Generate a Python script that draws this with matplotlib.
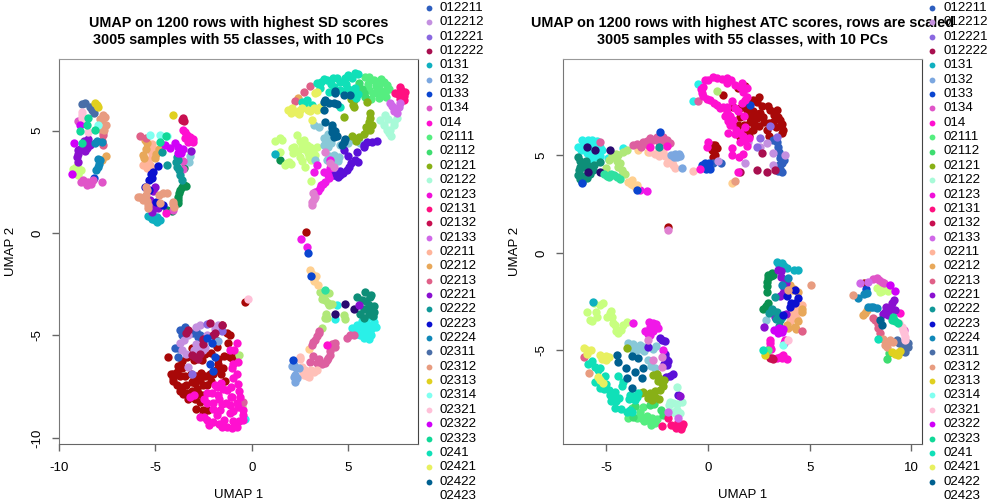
import matplotlib
matplotlib.use('Agg')
import matplotlib.pyplot as plt
from matplotlib.lines import Line2D

plt.rcParams['font.family'] = ['Liberation Sans', 'DejaVu Sans']
plt.rcParams['axes.unicode_minus'] = False

W, H = 1008, 504

# classes named in the legend, the last one has no visible dot
classes = ['012211', '012212', '012221', '012222', '0131', '0132', '0133', '0134', '014',
           '02111', '02112', '02121', '02122', '02123', '02131', '02132', '02133',
           '02211', '02212', '02213', '02221', '02222', '02223', '02224',
           '02311', '02312', '02313', '02314', '02321', '02322', '02323',
           '0241', '02421', '02422', '02423']
colors = {'012211': '#2E5FBF', '012212': '#C490E0', '012221': '#8A68E0', '012222': '#A80F4F',
          '0131': '#0FB0C0', '0132': '#7BA7E0', '0133': '#0A45D0', '0134': '#E055C8',
          '014': '#FF10D0', '02111': '#55EE80', '02112': '#3EDD70', '02121': '#88B016',
          '02122': '#A8FAD8', '02123': '#F010D8', '02131': '#FF1080', '02132': '#C80F50',
          '02133': '#D068E8', '02211': '#FFB49A', '02212': '#E8A85A', '02213': '#E06088',
          '02221': '#8A10D0', '02222': '#109898', '02223': '#0A10D0', '02224': '#1088B8',
          '02311': '#4A6EA8', '02312': '#E89C80', '02313': '#E0D020', '02314': '#80FFF0',
          '02321': '#FFC0D8', '02322': '#D000F8', '02323': '#10D898', '0241': '#10E0B8',
          '02421': '#E8F060', '02422': '#006090', '02423': '#FFFFFF'}
# classes in the plots that the cut off legend does not reach
other_colors = {'darkred': '#A80808', 'green': '#0A9050', 'cyan': '#2AF0E8', 'lime': '#B0E878',
                'paleyellow': '#C8FF80', 'skyblue': '#88C8D8', 'indigo': '#5A10D8',
                'brightmag': '#F018E8', 'orchid': '#E080D0', 'peach': '#FFD090',
                'pink': '#DD5FA0', 'teal': '#0E8E78', 'navy': '#2A0A70', 'mint': '#30E0A0',
                'blush': '#FFC0B8'}

# left panel, SD scores
sd_02311 = [(-8.65, 6.34), (-8.4, 6.17), (-8.17, 5.84), (-8.3, 6.0), (-8.8, 6.3)]
sd_02313 = [(-8.13, 6.37), (-7.96, 6.17), (-4.07, 5.77), (-8.05, 6.25)]
sd_02312 = [(-7.7, 5.77), (-7.79, 5.52), (-7.56, 5.28), (-7.66, 5.03), (-5.88, 1.78), (-5.45, 2.1),
            (-5.36, 1.37), (-4.58, 1.94), (-4.76, 1.45), (-4.07, 1.53), (-5.62, 1.61), (-7.85, 5.55),
            (-7.6, 5.65), (-7.8, 5.1), (-5.8, 1.75), (-5.5, 1.85), (-5.45, 1.55), (-5.5, 2.25), (-4.4, 1.95),
            (-4.8, 1.85), (-5.4, 1.2), (-4.1, 1.4), (-4.05, 1.25)]
sd_02321 = [(-8.82, 5.93), (-8.82, 5.6), (-8.48, 4.95), (-0.17, -3.2), (-8.8, 5.75), (-8.75, 5.45)]
sd_02323 = [(-8.48, 5.6), (-8.56, 5.28), (-8.13, 5.03), (-8.91, 4.98), (-8.82, 4.41), (-4.76, 4.46), (-4.45, 4.74)]
sd_02322 = [(-8.91, 5.28), (-9.22, 4.38), (-9.34, 2.88), (-3.98, 4.38), (-3.72, 4.06), (-3.81, 3.89),
            (-4.5, 4.3), (-4.24, 4.14), (-3.85, 4.2), (-3.65, 3.9), (-3.55, 4.1)]
sd_0134 = [(-9.0, 5.47), (-8.74, 2.59), (-8.48, 2.48), (-8.22, 2.59), (-7.79, 2.51), (-4.07, 1.12),
           (-3.55, 3.53), (-3.55, 3.14), (-8.65, 2.5), (-8.55, 2.35), (-8.35, 2.4), (-8.85, 2.5)]
sd_02314 = [(-7.96, 5.28), (-5.28, 4.79), (-4.76, 4.79), (-4.41, 4.74)]
sd_02224 = [(-8.05, 4.51), (-7.79, 4.43), (-7.87, 3.57), (-7.96, 3.24), (-7.95, 3.35), (-8.1, 3.1), (-8.0, 3.6), (-8.15, 4.4)]
sd_02213 = [(-7.7, 4.79), (-7.7, 4.3), (-5.8, 4.74), (-5.48, 4.63), (3.04, 7.18), (2.73, 6.87), (2.22, 6.47),
            (-7.75, 4.5), (-7.7, 4.95)]
sd_02221 = [(-8.48, 4.58), (-8.56, 4.14), (-9.0, 4.06), (-9.08, 3.73), (-9.0, 3.49), (-5.02, 2.23),
            (-5.1, 1.29), (-5.19, 1.04), (-4.76, 1.37), (-3.17, 4.02), (5.54, -3.52), (-8.7, 4.5), (-8.9, 4.1),
            (-8.65, 4.0), (-9.0, 3.85), (-8.4, 4.3), (-5.3, 1.6), (-5.2, 1.35), (-4.85, 1.2), (-5.1, 2.05)]
sd_02212 = [(-7.56, 3.76), (-7.79, 3.57), (-5.45, 4.38), (-5.62, 3.81), (-5.02, 3.65), (-4.79, 4.09), (2.4, 6.61),
            (-5.5, 4.1), (-5.6, 3.65), (-5.55, 4.55), (-4.95, 3.85)]
sd_0133 = [(-8.17, 2.67), (2.9, -0.96), (3.07, -2.1), (2.12, -6.2), (-2.34, -5.1), (-2.08, -5.36),
           (-2.16, -6.37), (-1.9, -6.04), (-1.99, -6.73)]
sd_02211 = [(-5.19, 4.22), (-5.36, 3.4), (-5.1, 3.89), (-5.62, 3.32), (-5.3, 4.05), (-5.2, 3.85), (-5.4, 3.55),
            (-5.3, 3.3), (-5.2, 3.2), (-5.45, 3.2), (-5.2, 4.35)]
sd_02223 = [(-4.84, 3.27), (-5.19, 2.67), (-5.1, 3.0), (-5.54, 2.26), (-4.58, 1.37), (-5.25, 2.9), (-5.35, 2.6),
            (-4.95, 1.5), (-5.35, 2.1)]
sd_02222 = [(-4.67, 3.97), (-4.41, 3.32), (-3.89, 3.73), (-3.89, 3.24), (-3.63, 2.59), (-3.95, 3.45), (-3.75, 3.1),
            (-3.7, 2.85), (-3.85, 3.55)]
sd_0131 = [(-5.36, 0.85), (-5.02, 0.64), (-4.76, 0.64), (1.22, 3.86), (-5.25, 0.8), (-5.1, 0.8), (-5.2, 0.7),
           (-4.9, 0.55), (-4.9, 0.8)]
sd_014 = [(-4.46, 0.96), (-3.55, 5.03), (-3.2, 4.71), (-3.03, 4.46), (-3.46, 4.63), (3.9, -5.47),
          (-1.12, -5.72), (-0.78, -5.39), (-0.95, -6.37), (-0.78, -6.86), (-0.69, -7.35), (-1.82, -7.51),
          (-1.3, -7.67), (-0.78, -8.32), (-2.34, -7.83), (-1.99, -8.32), (-3.2, -7.99), (-2.68, -8.97),
          (-1.99, -9.22), (-1.3, -9.46), (-0.78, -9.46), (-0.43, -9.14), (-0.43, -8.65), (-1.12, -8.81),
          (-1.64, -8.65), (-2.34, -9.14), (-3.35, 4.8), (-3.45, 4.95), (-3.15, 4.55), (-3.3, 4.45), (-3.05, 4.6),
          (-0.9, -5.7), (-1.0, -6.6), (-0.7, -6.3), (-0.95, -7.1), (-0.65, -7.7), (-0.6, -8.0), (-1.1, -7.5),
          (-1.5, -7.6), (-1.75, -7.9), (-2.05, -7.8), (-2.0, -8.6), (-1.7, -8.1), (-1.35, -8.3), (-1.0, -8.0),
          (-0.7, -8.5), (-0.45, -8.9), (-1.15, -8.4), (-0.95, -8.7), (-0.95, -9.2), (-0.65, -9.2), (-1.45, -9.15),
          (-1.7, -9.3), (-2.2, -9.35), (-2.5, -9.0), (-1.8, -8.9), (-1.55, -8.35), (-2.3, -8.3), (-3.0, -7.9),
          (-2.5, -8.1), (-1.0, -9.5), (-1.55, -9.45), (-1.9, -7.4), (-1.6, -7.3), (-1.1, -8.0)]
sd_02132 = [(-3.63, 5.52), (-3.55, 5.6), (-3.5, 5.45)]
sd_skyblue = [(-3.2, 3.78), (-3.25, 3.45), (3.21, 5.28), (3.47, 5.16), (3.73, 4.63), (3.99, 4.54),
              (4.25, 3.81), (3.9, 3.57), (4.51, 3.73), (4.85, 4.54), (5.28, 4.54), (3.3, 3.57), (3.75, 4.3),
              (3.95, 4.2), (4.1, 4.4), (4.5, 3.5), (4.3, 3.5), (4.0, 3.75), (3.95, 4.85), (4.6, 4.3), (5.0, 4.4), (5.6, 4.4)]
sd_green = [(-3.63, 2.26), (-3.81, 1.78), (-3.81, 1.45), (-4.41, 1.12), (-3.5, 3.2), (1.48, 3.57), (-3.5, 2.35),
            (-3.7, 2.1), (-3.75, 1.95), (-3.85, 1.6), (-4.15, 1.1), (-3.4, 2.3)]
sd_paleyellow = [(-9.0, 3.16), (-9.26, 3.11), (-9.0, 2.83), (1.48, 4.63), (2.09, 4.14), (2.6, 4.3),
                 (2.34, 4.79), (2.95, 3.73), (2.52, 3.73), (1.83, 3.4), (3.04, 4.22), (3.38, 4.22),
                 (2.69, 4.54), (1.48, 3.97), (2.78, 3.21), (3.07, 2.56), (-9.15, 3.0), (-8.95, 3.05), (-8.85, 3.1),
                 (-9.1, 3.25), (1.2, 4.5), (1.55, 4.55), (2.2, 4.2), (2.4, 4.0), (2.7, 4.1), (2.9, 3.9), (2.6, 3.5),
                 (2.85, 4.3), (2.15, 3.9), (1.95, 3.45), (1.7, 3.3), (2.05, 3.35), (3.2, 4.05), (3.3, 3.8), (2.5, 4.5), (3.1, 3.55)]
sd_0241 = [(3.38, 7.31), (3.9, 7.48), (4.42, 7.56), (4.85, 7.56), (5.37, 7.8), (4.25, 7.15), (4.94, 7.07),
           (5.37, 7.07), (4.59, 6.17), (2.6, 6.42), (3.12, 6.25), (3.55, 7.1), (3.6, 7.4), (4.1, 7.3), (4.6, 7.4),
           (4.2, 7.55), (4.9, 7.3), (5.15, 7.0), (5.2, 7.55), (5.0, 7.7), (4.6, 7.0), (5.5, 6.8), (5.15, 6.75),
           (5.5, 7.75), (3.75, 7.5), (2.85, 6.5), (2.7, 6.3), (4.0, 6.9), (5.3, 6.9), (5.4, 6.6)]
sd_02111 = [(5.89, 7.64), (6.32, 7.48), (6.84, 7.39), (6.58, 7.23), (7.0, 7.23), (6.06, 6.99), (6.5, 6.82), (6.93, 6.82),
            (6.1, 7.6), (6.05, 7.3), (6.45, 7.2), (6.7, 7.5), (7.1, 7.05), (6.3, 6.85), (6.75, 6.95), (6.2, 6.55),
            (6.6, 6.6), (5.95, 7.0), (6.95, 6.65)]
sd_02112 = [(5.54, 7.31), (5.89, 6.66), (5.7, 7.05), (5.8, 6.85), (5.55, 6.9)]
sd_02131 = [(7.7, 7.15), (7.79, 6.82), (7.88, 6.5), (7.45, 6.82), (7.75, 7.0), (7.9, 6.7), (7.6, 6.8), (7.95, 6.9), (7.7, 6.55)]
sd_02133 = [(7.19, 6.33), (7.62, 6.17), (7.53, 5.85), (7.3, 6.2), (7.4, 5.95), (7.7, 6.35)]
sd_02122 = [(7.0, 5.03), (7.36, 5.44), (6.67, 5.52), (6.93, 5.77), (7.15, 5.05), (7.2, 4.75), (7.1, 4.9), (7.4, 5.3),
            (7.55, 5.6), (7.05, 5.55), (6.85, 5.3)]
sd_02121 = [(6.15, 5.85), (6.06, 5.44), (5.98, 5.03), (5.54, 4.71), (5.2, 4.74), (5.28, 6.5), (5.98, 6.42), (4.77, 5.68),
            (6.15, 5.6), (6.25, 5.3), (5.95, 5.2), (6.15, 5.05), (5.85, 4.85), (5.4, 4.5), (5.25, 6.25), (5.15, 6.55), (5.3, 6.15)]
sd_02422 = [(3.81, 6.5), (4.25, 6.33), (3.73, 6.0), (4.33, 6.82), (4.77, 6.74), (5.11, 6.74), (3.81, 5.44),
            (4.16, 5.11), (4.25, 4.71), (4.77, 4.46), (4.42, 4.74), (4.0, 6.35), (3.75, 6.4), (4.4, 6.3), (4.3, 6.95),
            (4.15, 5.3), (4.15, 4.95), (4.85, 4.6), (4.7, 4.3), (4.3, 5.0)]
sd_02421 = [(2.09, 6.09), (2.6, 6.09), (3.21, 6.09), (3.55, 6.17), (3.12, 5.52), (3.38, 6.9), (1.9, 6.0), (2.3, 5.9),
            (2.5, 6.0), (3.0, 5.95), (3.4, 6.0), (2.05, 5.85), (2.45, 5.8), (3.3, 6.85), (2.9, 6.0)]
sd_indigo = [(5.8, 4.22), (5.46, 3.97), (5.37, 3.57), (4.94, 3.08), (4.59, 2.83), (4.33, 2.83), (4.77, 4.06),
             (4.97, 3.78), (6.5, 4.51), (6.24, 4.46), (5.05, 3.25), (5.15, 3.4), (4.75, 2.95), (4.45, 2.75), (5.5, 3.45),
             (4.2, 2.85), (4.6, 3.05), (5.8, 4.3), (6.0, 4.45)]
sd_brightmag = [(3.38, 3.32), (3.21, 3.0), (3.73, 3.0), (4.07, 3.16), (3.99, 2.67), (3.81, 2.51), (3.55, 2.18),
                (4.07, 3.57), (2.55, -0.31), (2.86, -0.67), (3.6, 2.35), (3.3, 2.0), (3.7, 2.4), (3.95, 2.85), (3.45, 2.05)]
sd_orchid = [(4.07, 3.4), (3.81, 3.97), (3.3, 1.78), (3.12, 1.37), (4.25, 3.24), (3.25, 1.65), (3.15, 1.5), (3.2, 1.95)]
sd_darkred = [(2.83, 0.05), (-0.34, -3.35), (-4.33, -6.04), (-4.07, -6.86), (-3.89, -6.78), (-3.63, -7.51),
              (-3.37, -7.83), (-3.11, -7.26), (-2.68, -7.18), (-2.77, -7.83), (-3.37, -6.04), (-2.85, -6.04),
              (-2.16, -6.86), (-1.73, -6.37), (-1.47, -6.61), (-1.12, -6.04), (-1.21, -5.39), (-1.56, -4.5),
              (-1.82, -5.55), (-2.51, -8.65), (-2.25, -8.65), (-4.07, -7.1), (-4.2, -6.9), (-4.1, -7.2), (-3.9, -7.4),
              (-3.85, -6.5), (-3.7, -7.0), (-3.6, -6.6), (-3.45, -7.0), (-3.4, -7.4), (-3.55, -7.85), (-3.3, -8.1),
              (-3.1, -7.7), (-2.95, -7.3), (-2.9, -7.0), (-3.15, -6.9), (-2.65, -6.85), (-2.55, -7.4), (-2.85, -7.6),
              (-2.95, -8.1), (-2.7, -8.25), (-2.6, -7.9), (-2.4, -7.0), (-2.3, -7.4), (-2.0, -6.9), (-2.9, -8.6),
              (-2.55, -8.85), (-1.85, -6.7), (-1.6, -6.9), (-1.4, -7.2), (-1.75, -6.15), (-1.1, -5.9), (-1.0, -6.1),
              (-1.3, -4.9), (-1.15, -5.0), (-3.0, -6.2), (-2.6, -6.2), (-2.4, -5.9), (-2.1, -5.85), (-3.6, -6.25),
              (-3.1, -5.6), (-2.7, -5.3), (-1.85, -5.2), (-1.45, -6.0), (-2.1, -7.2), (-3.7, -7.7)]
sd_peach = [(3.04, -1.81), (3.21, -2.22), (3.42, -2.54), (2.95, -5.67), (3.25, -2.35), (3.35, -2.1), (3.15, -2.0)]
sd_lime = [(3.55, -2.87), (3.81, -3.27), (3.99, -3.52), (3.9, -4.17), (4.77, -4.0), (3.64, -4.63), (3.99, -2.92),
           (-0.64, -5.96), (-0.52, -8.45), (3.7, -3.05), (3.65, -3.2), (3.95, -3.4), (3.8, -4.15), (3.85, -3.95),
           (4.15, -3.45), (4.85, -4.2)]
sd_mint = [(3.81, -2.79)]
sd_navy = [(4.33, -3.93), (5.29, -3.73), (4.85, -3.44)]
sd_cyan = [(4.42, -3.52), (4.33, -4.22), (5.46, -4.5), (5.8, -4.74), (6.15, -4.9), (6.32, -4.33), (5.98, -4.17),
           (5.2, -4.66), (5.63, -4.98), (6.06, -5.15), (-0.35, -9.06), (5.7, -4.3), (5.6, -4.6), (5.9, -4.5),
           (6.1, -4.5), (6.25, -4.65), (5.4, -4.75), (5.85, -5.0), (5.95, -4.8), (6.0, -5.05), (5.45, -4.95),
           (6.3, -4.1), (5.8, -5.1), (6.45, -4.6), (6.2, -5.0)]
sd_teal = [(5.89, -2.87), (6.15, -3.11), (5.72, -3.27), (6.24, -3.6), (6.06, -3.93), (5.8, -4.17), (6.32, -3.84),
           (5.46, -3.11), (5.95, -3.3), (6.1, -3.5), (5.85, -3.7), (6.15, -3.85), (6.35, -3.55), (5.6, -3.95),
           (6.2, -3.0), (6.3, -4.05)]
sd_pink = [(3.47, -4.9), (3.3, -5.24), (3.12, -5.49), (4.16, -5.4), (4.07, -5.96), (3.64, -6.37), (3.04, -6.29),
           (4.94, -5.1), (5.29, -4.98), (4.33, -5.56), (3.9, -6.2), (3.38, -6.34), (-0.47, -8.24), (3.5, -4.8),
           (3.2, -5.3), (3.4, -5.05), (4.25, -5.5), (3.95, -6.1), (3.8, -6.35), (3.5, -6.15), (3.2, -6.0),
           (4.05, -5.75), (5.1, -5.0), (4.3, -5.35)]
sd_blush = [(2.52, -6.04), (2.69, -6.94), (3.21, -6.77), (2.95, -7.02), (2.6, -6.53), (2.75, -6.7), (3.05, -6.7),
            (2.85, -7.0), (3.4, -6.7), (2.5, -6.15), (2.65, -6.85)]
sd_0132 = [(2.17, -6.45), (2.26, -6.94), (2.26, -7.26), (2.43, -6.61), (-1.73, -5.28), (2.2, -7.05), (2.35, -7.1),
           (2.1, -6.5), (2.3, -6.6)]
sd_012211 = [(-3.55, -4.74), (-3.63, -4.98), (-3.03, -4.9), (-2.77, -5.07), (-3.98, -5.63), (-3.81, -6.04),
             (-3.45, -4.6), (-3.7, -4.75), (-2.9, -4.8), (-2.7, -5.0), (-3.85, -5.6)]
sd_012212 = [(-3.72, -5.39), (-2.68, -4.5), (-1.73, -4.5), (-2.77, -5.55), (-3.63, -5.72), (-2.51, -5.72), (-3.29, -6.53),
             (-3.5, -5.2), (-3.3, -5.0), (-3.0, -5.7), (-2.7, -5.75), (-2.9, -4.6), (-2.3, -5.0), (-2.4, -5.6),
             (-3.4, -5.9), (-1.9, -4.7), (-2.9, -5.4)]
sd_012222 = [(-3.29, -4.74), (-2.16, -4.41), (-1.56, -4.5), (-2.94, -6.04), (-1.9, -4.87), (-2.51, -5.15), (-2.7, -5.9),
             (-3.1, -5.95), (-2.8, -6.15), (-3.4, -4.9), (-2.55, -5.4), (-2.0, -5.0)]
sd_012221 = [(-2.34, -4.45), (-1.56, -4.79), (-3.11, -6.89)]

# right panel, ATC scores
atc_cyan = [(-6.21, 5.79), (-6.38, 5.45), (-5.97, 5.11), (-5.72, 5.79), (-5.31, 5.45), (-5.8, 4.77), (-4.9, 4.85),
            (-5.39, 5.11), (-4.16, 5.37), (-0.48, 8.65), (-0.72, 7.79), (-6.1, 5.6), (-5.9, 5.8), (-5.6, 5.6),
            (-5.45, 5.75), (-5.75, 5.3), (-6.25, 5.3), (-6.05, 5.35), (-5.55, 4.9), (-5.65, 5.1), (-5.2, 5.3),
            (-5.85, 5.55), (-5.3, 4.95)]
atc_teal = [(-6.38, 4.94), (-6.3, 4.43), (-5.97, 4.51), (-6.38, 4.0), (-5.64, 4.26), (-5.97, 3.83), (-6.21, 3.66),
            (-5.31, 4.68), (-6.3, 4.7), (-6.15, 4.4), (-6.35, 4.25), (-5.85, 4.35), (-6.15, 3.95), (-5.8, 4.05),
            (-6.3, 3.8), (-6.0, 4.7), (-5.6, 4.5)]
atc_navy = [(-5.93, 5.42), (-5.31, 4.17), (-4.82, 5.28), (-5.56, 5.28), (-5.89, 4.17)]
atc_0133 = [(-6.18, 3.57), (-3.5, 3.25), (-2.36, 6.22), (-0.31, 4.51), (0.02, 4.43), (2.07, 7.59), (7.77, -1.86),
            (-0.1, 4.3), (0.1, 4.3), (0.05, 4.6), (-0.15, 4.6)]
atc_lime = [(-4.41, 5.03), (-4.66, 4.94), (-4.0, 5.28), (-4.41, 4.43), (-4.16, 4.12), (-5.0, 4.34), (0.43, 8.32),
            (-4.7, 5.0), (-4.5, 5.1), (-4.2, 5.2), (-4.45, 4.7), (-4.35, 4.6), (-4.25, 4.25), (-4.85, 4.75), (-4.1, 4.05)]
atc_mint = [(-4.98, 3.95), (-4.49, 3.88), (-4.75, 4.05), (-4.6, 4.0), (-4.35, 3.8), (-5.1, 4.05), (-4.85, 3.9)]
atc_peach = [(-3.92, 3.66), (-3.67, 3.49), (-3.43, 5.28), (-2.93, 5.2), (1.16, 3.57), (-3.8, 3.55), (-3.75, 3.75),
             (-3.55, 3.35), (-3.5, 3.5)]
atc_brightmag = [(-3.34, 3.23), (-3.02, 3.18), (-3.67, -3.61), (-2.85, -3.78), (-2.61, -3.86), (-2.85, -4.2), (-2.2, -4.97),
                 (-3.1, -4.0), (-2.7, -3.6), (-2.9, -3.55), (-2.55, -3.65), (-2.45, -3.85), (-2.7, -4.0), (-2.95, -4.15)]
atc_pink = [(-3.67, 5.54), (-3.18, 5.71), (-2.69, 5.79), (-2.2, 5.97), (-1.87, 5.62), (-5.31, 5.71), (-0.48, 7.81),
            (-3.5, 5.6), (-3.0, 5.75), (-2.85, 5.9), (-2.5, 5.95), (-2.4, 5.7), (-2.1, 5.7), (-2.0, 5.8), (-3.3, 5.45),
            (-2.95, 5.55), (-2.35, 6.0)]
atc_014 = [(-2.85, 5.45), (-2.03, 5.49), (-0.39, 4.31), (0.02, 5.71), (-0.07, 5.45), (-0.23, 8.53), (0.26, 9.04),
           (0.92, 8.96), (1.57, 8.53), (-0.31, 8.19), (0.1, 7.85), (0.43, 7.59), (0.92, 7.25), (1.08, 6.56),
           (1.57, 6.14), (1.82, 5.79), (1.25, 6.82), (0.75, 7.5), (1.16, 5.37), (1.16, 5.03), (1.54, 4.91),
           (1.0, 6.14), (1.49, 4.17), (1.66, 8.7), (1.9, 8.44), (1.66, 7.68), (1.82, 6.48), (3.05, -4.46),
           (3.05, -4.8), (3.79, -4.46), (3.7, -5.23), (3.38, -5.4), (3.87, -5.45), (9.44, -3.06), (0.0, 8.85),
           (0.45, 9.0), (0.7, 8.9), (1.15, 8.85), (1.35, 8.6), (-0.15, 8.85), (-0.35, 8.4), (-0.25, 8.05),
           (-0.05, 7.9), (0.3, 7.7), (0.6, 7.45), (0.95, 7.5), (1.1, 7.05), (0.85, 7.05), (1.0, 6.75), (1.2, 6.55),
           (1.4, 6.3), (1.35, 6.1), (1.7, 6.0), (1.55, 5.7), (1.9, 5.5), (1.7, 5.1), (2.0, 5.9), (0.95, 8.7),
           (1.9, 8.0), (1.8, 7.85), (1.7, 8.25), (1.2, 7.8), (1.35, 7.45), (1.5, 7.3), (1.75, 7.05), (3.05, -4.6),
           (3.1, -4.95), (3.55, -5.35), (3.65, -5.4), (3.75, -4.6)]
atc_blush = [(-2.85, 5.2), (-2.2, 5.2), (-1.87, 4.85), (-1.7, 4.51), (-0.72, 4.22), (-2.6, 5.1), (-2.4, 4.95),
             (-2.1, 4.95), (-2.0, 4.6), (-1.75, 4.65), (-2.4, 5.35), (-1.6, 4.35)]
atc_0132 = [(-1.54, 4.94), (-1.3, 4.34), (-1.8, 5.0), (-1.6, 5.1), (-1.4, 4.95), (-1.45, 5.1), (-1.65, 4.9)]
atc_teal2 = [(-2.39, 5.45)]
atc_012211 = [(0.26, 4.6), (0.62, 4.63), (3.21, 5.79), (3.46, 5.45), (3.62, 4.6), (3.62, 4.17), (3.7, 4.94),
              (3.4, 5.7), (3.5, 5.2), (3.55, 4.85), (3.5, 4.5), (3.45, 4.2), (3.75, 4.75), (3.55, 4.3)]
atc_012212 = [(0.51, 4.74), (1.98, 5.71), (2.89, 5.62), (2.56, 5.45), (3.21, 5.11), (3.78, 5.03), (1.82, 4.6), (3.21, 4.51)]
atc_012221 = [(3.05, 6.51), (2.56, 5.88), (3.38, 5.97), (2.4, 5.45)]
atc_012222 = [(2.64, 5.11), (2.4, 4.26), (2.89, 4.17), (3.3, 4.26), (1.57, 4.17)]
atc_darkred = [(0.26, 5.54), (0.26, 4.94), (0.35, 5.54), (2.23, 7.85), (2.56, 7.16), (3.05, 7.33), (3.54, 6.82),
               (3.38, 7.33), (2.23, 6.31), (2.89, 6.31), (3.62, 6.14), (1.57, 6.99), (1.57, 5.97), (2.07, 6.99),
               (1.49, 8.44), (1.82, 8.56), (0.75, 8.1), (1.25, 7.5), (1.9, 7.35), (1.49, 6.56), (1.66, 5.79),
               (-1.95, 1.35), (7.67, -1.56), (2.0, 7.75), (2.4, 7.75), (2.65, 7.55), (2.95, 7.55), (3.25, 7.1),
               (3.45, 6.95), (3.65, 6.6), (3.7, 6.3), (2.2, 7.3), (2.4, 7.15), (2.7, 7.0), (2.75, 6.7), (3.0, 6.65),
               (3.2, 6.7), (3.35, 6.45), (2.05, 6.7), (2.25, 6.6), (1.9, 6.3), (2.0, 6.0), (1.75, 6.55), (2.4, 6.9),
               (3.0, 6.0), (2.5, 6.5), (1.75, 7.6), (1.55, 7.45), (0.45, 5.4), (0.35, 5.0), (0.2, 5.3), (2.5, 8.0), (1.45, 6.3)]
atc_orchid = [(-1.95, 1.18), (-2.93, -4.46), (-2.28, -5.83), (-2.69, -5.49), (-2.28, -5.32)]
atc_02312 = [(1.33, 3.71), (-5.84, -6.14), (5.05, -1.64), (3.95, -1.9), (7.15, -2.15), (8.79, -4.55), (9.11, -4.55),
             (8.79, -4.8), (8.6, -4.4), (8.95, -4.45), (8.7, -4.7)]
atc_0131 = [(-5.67, -2.53), (3.38, -0.48), (3.62, -0.53), (3.87, -0.79), (4.44, -0.87), (3.5, -0.6), (3.75, -0.65),
            (3.65, -0.75), (4.25, -0.85)]
atc_paleyellow = [(-5.97, -3.01), (-5.48, -3.26), (-5.15, -2.58), (-4.82, -3.09), (-4.66, -3.61), (-4.16, -3.69),
                  (-4.41, -4.12), (-5.8, -3.44), (8.29, -1.81), (8.7, -1.81), (8.46, -1.98), (-5.6, -2.55), (-5.3, -2.65),
                  (-4.95, -3.3), (-4.7, -3.3), (-4.55, -3.7), (-4.3, -3.95), (-4.0, -3.55), (-4.5, -4.0), (-5.7, -3.5),
                  (-5.5, -3.05), (-4.75, -3.0), (8.45, -1.75), (8.55, -1.95), (8.85, -1.95)]
atc_indigo = [(-2.36, -4.38), (-2.93, -4.82), (-2.11, -5.32), (-2.03, -5.74), (-1.87, -6.31), (-1.46, -7.28), (-2.25, -4.45),
              (-2.1, -4.5), (-2.1, -5.2), (-2.0, -5.5), (-2.15, -5.7), (-1.95, -5.55), (-1.7, -6.2), (-2.05, -6.35)]
atc_skyblue = [(-3.92, -4.6), (-3.34, -4.72), (-3.67, -4.97), (-2.69, -4.94), (-2.61, -5.91), (-2.93, -5.49), (2.85, -3.44),
               (-3.7, -4.65), (-3.4, -4.95), (-3.1, -4.8), (-3.15, -5.05), (-3.55, -5.0), (-2.55, -4.75), (-3.85, -4.75), (-2.8, -5.8)]
atc_02422 = [(-3.75, -5.28), (-3.43, -5.4), (-4.41, -5.57), (-4.03, -5.91), (-3.59, -6.09), (-3.18, -5.91),
             (-3.26, -6.43), (-3.75, -6.94), (-4.0, -6.43), (-4.49, -5.23), (8.46, -3.44), (8.54, -3.69)]
atc_02421 = [(-5.97, -4.97), (-5.31, -5.23), (-5.02, -5.49), (-5.39, -6.34), (-5.18, -6.68), (-6.1, -4.9), (-5.95, -5.2),
             (-5.75, -5.0), (-5.2, -5.45), (-5.0, -5.3), (-4.85, -5.35), (-5.3, -6.5)]
atc_02213 = [(-6.08, -5.35), (4.6, -4.0), (8.13, -3.32), (8.38, -3.86), (8.46, -4.12), (8.2, -3.45), (8.35, -3.65)]
atc_0241 = [(-5.89, -5.69), (-5.56, -5.83), (-5.39, -6.0), (-5.07, -6.31), (-4.41, -6.31), (-4.16, -6.6), (-5.56, -6.6),
            (-5.31, -6.94), (-4.82, -7.28), (-4.57, -7.12), (-4.57, -7.97), (-3.84, -7.28), (-3.51, -7.37), (-3.75, -8.14),
            (2.72, -4.97), (8.34, -4.41), (-5.2, -6.6), (-5.0, -6.7), (-5.1, -7.0), (-4.85, -7.05), (-4.6, -7.3), (-4.75, -7.6),
            (-4.5, -7.6), (-4.3, -8.0), (-4.0, -8.15), (-3.7, -7.35), (-3.45, -7.2), (-3.9, -7.5), (-3.6, -7.55), (-4.25, -6.85),
            (-4.4, -7.45), (-3.85, -8.05), (-5.7, -5.55), (-5.3, -5.9)]
atc_02121 = [(-4.0, -4.89), (-2.69, -6.26), (-2.28, -6.68), (-3.18, -7.11), (-2.61, -7.37), (-2.36, -7.03), (-2.93, -7.45),
             (-2.4, -6.4), (-2.45, -6.55), (-2.15, -6.5), (-2.2, -6.85), (-2.85, -7.2), (-2.6, -7.1), (-2.4, -7.5), (-2.95, -7.3),
             (-3.3, -7.2), (-2.75, -7.55), (-2.5, -6.2)]
atc_02111 = [(-3.75, -7.97), (-3.34, -8.14), (-3.02, -8.56), (-2.61, -8.73), (-3.92, -8.48), (-3.51, -8.48), (2.97, -5.0),
             (-3.2, -7.9), (-3.0, -8.35), (-2.75, -8.45), (-3.3, -8.45), (-2.8, -8.8), (-2.5, -8.5), (-3.15, -8.6)]
atc_02112 = [(-2.85, -7.8), (-2.2, -8.31), (8.9, -5.15), (8.79, -5.44), (-3.7, -8.4), (-3.6, -7.85), (-2.65, -7.75), (-2.3, -8.05)]
atc_02122 = [(-1.54, -6.89), (-1.7, -7.71), (-1.3, -7.62), (-1.7, -8.14), (-1.38, -8.22), (-1.5, -7.75), (-1.9, -7.8),
             (-1.85, -7.65), (-1.5, -8.05), (-1.55, -8.2)]
atc_02133 = [(-1.95, -8.14), (-1.46, -8.48), (7.48, -1.52), (7.89, -1.47)]
atc_02131 = [(-1.95, -8.48), (-1.62, -8.9), (-1.3, -8.9), (-1.46, -8.65), (-2.25, -8.9), (-1.8, -8.85), (-1.55, -9.0),
             (-1.35, -9.05), (-1.25, -8.75)]
atc_green = [(3.13, -1.04), (2.97, -1.3), (2.89, -1.98), (2.8, -2.84), (2.97, -2.58), (3.21, -1.12), (2.95, -1.15),
             (2.9, -1.5), (3.1, -1.2), (2.85, -2.7), (2.7, -2.85), (2.95, -2.85), (2.9, -1.7)]
atc_02221 = [(3.46, -0.87), (3.79, -1.38), (3.7, -2.07), (3.3, -3.26), (2.75, -3.78), (9.03, -2.58), (8.7, -3.01), (8.87, -3.18),
             (-1.4, -7.35), (3.6, -1.25), (3.85, -1.55), (3.75, -1.8), (3.55, -2.2), (3.35, -3.1), (3.85, -3.15), (3.6, -0.95),
             (8.85, -2.95), (9.15, -2.4), (9.05, -2.85), (8.6, -3.15), (8.75, -2.75), (9.2, -2.95)]
atc_02212 = [(4.11, -1.9), (4.44, -1.98), (4.6, -3.01), (4.28, -3.78), (3.87, -3.69), (7.72, -3.09), (4.25, -1.85), (4.6, -2.9),
             (4.45, -3.5), (4.35, -3.9), (3.95, -3.85), (4.05, -1.65), (7.6, -3.2), (7.8, -2.95)]
atc_02211 = [(4.28, -2.75), (4.6, -2.67), (4.2, -3.09), (4.36, -3.37), (4.15, -2.9), (4.4, -2.85), (4.05, -3.15), (4.3, -3.2), (4.05, -3.5)]
atc_02223 = [(4.44, -2.32), (4.03, -2.75), (3.7, -3.18), (4.28, -1.9), (3.9, -2.2), (4.3, -2.55), (4.1, -2.55)]
atc_02222 = [(3.21, -3.0), (3.54, -3.45), (3.38, -3.03), (3.3, -2.24), (3.0, -3.1), (3.35, -3.4), (3.5, -3.75), (3.65, -3.3), (3.15, -2.9)]
atc_02224 = [(3.95, -1.3), (3.62, -1.64), (7.8, -2.07), (7.39, -2.29), (7.89, -2.75), (8.13, -2.75), (7.65, -2.1), (8.0, -2.75), (8.3, -2.8)]
atc_02322 = [(3.38, -3.95), (3.62, -4.03), (8.95, -1.64), (9.2, -1.93), (3.45, -4.1), (3.7, -3.9), (3.25, -3.95), (3.5, -3.85)]
atc_02132 = [(3.13, -5.4), (3.05, -5.4), (3.2, -5.45)]
atc_02313 = [(2.8, -5.23), (9.28, -5.15), (9.03, -5.07), (9.2, -5.2), (9.35, -5.25), (9.45, -5.05)]
atc_02314 = [(3.7, -4.72)]
atc_02321 = [(3.95, -4.46), (9.52, -3.78), (9.69, -4.29), (9.65, -4.1), (9.4, -3.6), (9.7, -4.45), (9.6, -3.95)]
atc_0134 = [(8.13, -1.35), (8.54, -1.5), (9.64, -3.97), (8.3, -1.3), (8.4, -1.4), (8.65, -1.55)]
atc_02323 = [(9.03, -3.44), (9.36, -3.61), (9.2, -3.5), (9.1, -3.3)]
atc_02311 = [(9.6, -4.8), (9.85, -4.8), (9.28, -4.46), (9.4, -4.6), (9.7, -5.1), (9.55, -5.05), (9.85, -4.6)]

left_xticks = [-10, -5, 0, 5]
left_yticks = [-10, -5, 0, 5]
right_xticks = [-5, 0, 5, 10]
right_yticks = [-5, 0, 5]
left_title = 'UMAP on 1200 rows with highest SD scores\n3005 samples with 55 classes, with 10 PCs'
right_title = 'UMAP on 1200 rows with highest ATC scores, rows are scaled\n3005 samples with 55 classes, with 10 PCs'

all_colors = {**other_colors, 'teal2': '#109898', **colors}


def panel(box, prefix, xlim, ylim, xticks, yticks, title):
    x0, y0, x1, y1 = box
    ax = fig.add_axes([x0 / W, 1 - y1 / H, (x1 - x0) / W, (y1 - y0) / H])
    for name, col in all_colors.items():
        pts = globals().get(prefix + name)
        if pts:
            ax.scatter([p[0] for p in pts], [p[1] for p in pts], s=36, color=col, linewidths=0, zorder=3)
    ax.set_xlim(xlim)
    ax.set_ylim(ylim)
    ax.set_xticks(xticks)
    ax.set_yticks(yticks)
    ax.tick_params(axis='x', length=5, width=1, color='#666666', labelsize=9.5, pad=8)
    ax.tick_params(axis='y', length=5, width=1, color='#666666', labelsize=9.5, pad=6)
    for t in ax.get_yticklabels():
        t.set_rotation(90)
        t.set_va('center')
    ax.spines['top'].set_color('#999999')
    ax.spines['left'].set_color('#777777')
    ax.spines['bottom'].set_color('#666666')
    ax.spines['right'].set_color('#444444')
    ax.set_xlabel('UMAP 1', fontsize=9.5, va='center')
    ax.set_ylabel('UMAP 2', fontsize=9.5, va='center')
    ax.xaxis.set_label_coords(0.5, -(495 - y1) / (y1 - y0))
    ax.yaxis.set_label_coords(-48 / (x1 - x0), 0.5)
    ax.set_title(title, fontsize=10.4, fontweight='bold', pad=11, linespacing=1.25)
    return ax


def legend(x_dot, x_text):
    for i, name in enumerate(classes):
        y = 8 + i * 14.35
        fig.add_artist(Line2D([x_dot / W], [1 - y / H], marker='o', ms=4.2, mew=0, color=colors[name],
                              linestyle='none', transform=fig.transFigure))
        fig.text(x_text / W, 1 - y / H, name, fontsize=9.6, ha='left', va='center', color='black')


fig = plt.figure(figsize=(W / 100, H / 100), dpi=100)
panel((59, 59, 417.5, 444), 'sd_', (-10, 8.6), (-10.3, 8.5), left_xticks, left_yticks, left_title)
panel((563, 59, 921.5, 444), 'atc_', (-7.13, 10.5), (-9.8, 9.95), right_xticks, right_yticks, right_title)
legend(428.5, 440)
legend(932, 943)
plt.savefig('out.png', dpi=100)
